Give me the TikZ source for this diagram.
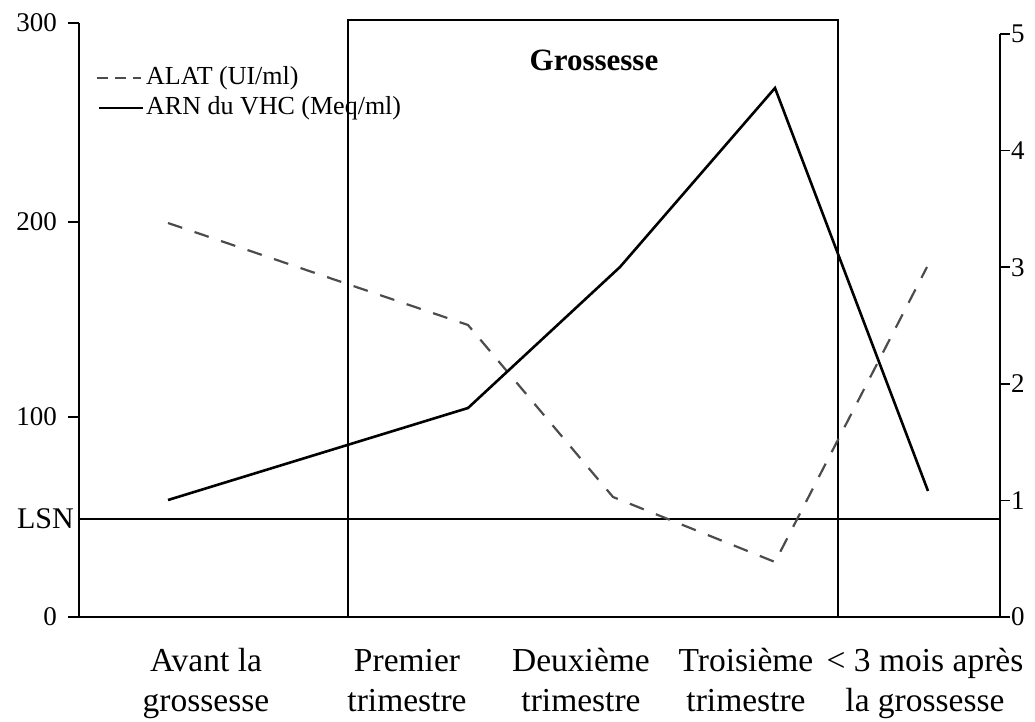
\documentclass[tikz,border=0pt]{standalone}
\usepackage{fontspec}
\setmainfont{Liberation Serif}

\begin{document}
\begin{tikzpicture}[
        x=1pt, y=-1pt,
        every node/.style={inner sep=0pt},
        axis/.style={line width=1.6pt},
        alat/.style={line width=2.2pt, dash pattern=on 15pt off 13pt, black!70},
        arn/.style={line width=2.6pt, line join=miter},
        period/.style={font=\fontsize{33.5}{40}\selectfont, align=center, anchor=base},
    ]
    \tikzstyle{ticklabel}=[font=\fontsize{27}{30}\selectfont]
    \useasboundingbox (0,0) rectangle (1035,722);

    \coordinate (o) at (79,617);
    \coordinate (ltop) at (79,23);
    \coordinate (r0) at (1000,617);
    \coordinate (rtop) at (1000,34);
    \draw[axis] (ltop) -- (o) -- (r0) -- (rtop);

    \foreach \v/\y in {300/23, 200/222, 100/417, 0/617}{
        \draw[axis] (68,\y) -- (79,\y);
        \node[ticklabel, anchor=east] (l\v) at (57,\y) {\v};
    }
    \foreach \v in {0,...,5}{
        \draw[axis] (1000,617-116.6*\v) -- (1010,617-116.6*\v);
        \node[ticklabel, anchor=west] (r\v) at (1011,617-116.6*\v) {\v};
    }

    \node[font=\fontsize{30}{32}\selectfont, anchor=east] (lsn) at (74,519) {LSN};
    \coordinate (lsn0) at (79,519);
    \coordinate (lsn1) at (1000,519);
    \draw[line width=2.2pt] (lsn0) -- (lsn1);

    \coordinate (gl) at (348,617);
    \coordinate (gr) at (838,617);
    \draw[line width=1.4pt] (gl) |- (838,20) -- (gr);
    \node[font=\fontsize{31}{33}\selectfont\bfseries] (gro) at (594,60) {Grossesse};

    \coordinate (k1) at (97,78);
    \coordinate (k2) at (141,78);
    \coordinate (k3) at (99,108);
    \coordinate (k4) at (143,108);
    \draw[alat, dash pattern=on 11pt off 7pt] (k1) -- (k2);
    \draw[arn] (k3) -- (k4);
    \node[font=\fontsize{26}{28}\selectfont, anchor=west] (lalat) at (146,78) {ALAT (UI/ml)};
    \node[font=\fontsize{26}{28}\selectfont, anchor=west] (larn) at (146,108) {ARN du VHC (Meq/ml)};

    \foreach \n/\x/\y in {1/168/223, 2/468/325, 3/613/497, 4/775/562, 5/927/267}
        \coordinate (a\n) at (\x,\y);
    \foreach \n/\x/\y in {1/168/500, 2/468/408, 3/620/267, 4/775/88, 5/928/491}
        \coordinate (v\n) at (\x,\y);
    \draw[alat] (a1) -- (a2) -- (a3) -- (a4) -- (a5);
    \draw[arn] (v1) -- (v2) -- (v3) -- (v4) -- (v5);

    \node[period] (p1) at (206,711) {Avant la\\grossesse};
    \node[period] (p2) at (407,711) {Premier\\trimestre};
    \node[period] (p3) at (581,711) {Deuxième\\trimestre};
    \node[period] (p4) at (746,711) {Troisième\\trimestre};
    \node[period] (p5) at (925,711) {< 3 mois après\\la grossesse};
\end{tikzpicture}
\end{document}
